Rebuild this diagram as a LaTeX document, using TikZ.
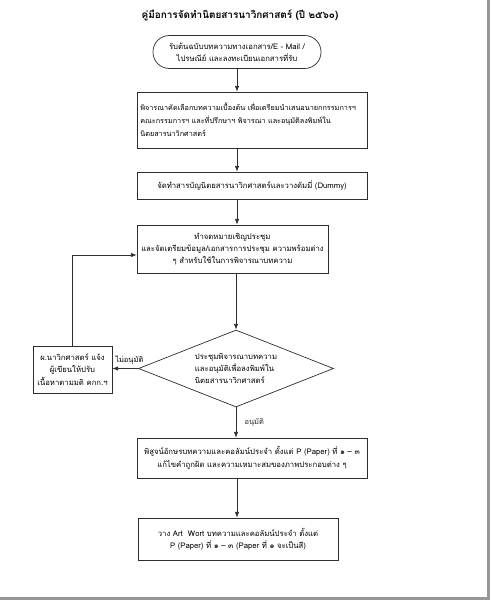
\documentclass[tikz,border=0pt]{standalone}
\usepackage{fontspec}
\newfontfamily\thaifont[Script=Thai]{Loma}
\usetikzlibrary{arrows.meta,positioning,shapes.geometric}
\definecolor{ink}{RGB}{45,45,45}
\definecolor{pageedge}{RGB}{150,150,150}

\begin{document}
\begin{tikzpicture}[x=0.03cm,y=-0.03cm,
      procbox/.style={draw=ink,line width=0.6pt,align=center,inner sep=2pt,font=\thaifont\fontsize{6.6}{10.5}\selectfont},
      endbox/.style={procbox,rounded corners=0.49cm},
      choice/.style={diamond,draw=ink,line width=0.6pt,aspect=2.53,minimum width=5.85cm,minimum height=2.31cm,inner sep=0pt,align=left,font=\thaifont\fontsize{6.6}{10.5}\selectfont},
      tag/.style={font=\thaifont\fontsize{6.4}{8}\selectfont,inner sep=1pt},
      arr/.style={-{Latex[length=1.7mm,width=1.3mm]},line width=0.6pt,ink}
    ]
      \useasboundingbox (0,0) rectangle (490,600);
      \fill[pageedge] (487,0) rectangle (490,600);
      \fill[pageedge] (0,597) rectangle (490,600);
      \node[font=\thaifont\bfseries\fontsize{8.5}{10}\selectfont] (title) at (240,15) {คู่มือการจัดทำนิตยสารนาวิกศาสตร์ (ปี ๒๕๖๐)};
      \node[endbox,minimum width=5.04cm,minimum height=0.99cm] (term) at (237,52) {รับต้นฉบับบทความทางเอกสาร/E - Mail /\\ไปรษณีย์ และลงทะเบียนเอกสารที่รับ};
      \node[procbox,minimum width=6.9cm,minimum height=1.68cm,text width=6.7cm,align=left,font=\thaifont\fontsize{6.2}{11}\selectfont] (sel) at (252,120) {\mbox{พิจารณาคัดเลือกบทความเบื้องต้น เพื่อเตรียมนำเสนอนายกกรรมการฯ}\\คณะกรรมการฯ และที่ปรึกษาฯ พิจารณา และอนุมัติลงพิมพ์ใน\\นิตยสารนาวิกศาสตร์};
      \node[procbox,minimum width=6.9cm,minimum height=0.81cm] (toc) at (252,185.5) {จัดทำสารบัญนิตยสารนาวิกศาสตร์และวางดัมมี่ (Dummy)};
      \node[procbox,minimum width=5.73cm,minimum height=1.44cm] (meet) at (232.5,249) {ทำจดหมายเชิญประชุม\\และจัดเตรียมข้อมูล/เอกสารการประชุม ความพร้อมต่าง\\ๆ สำหรับใช้ในการพิจารณาบทความ};
      \node[choice] (vote) at (236,368.5) {ประชุมพิจารณาบทความ\\และอนุมัติเพื่อลงพิมพ์ใน\\นิตยสารนาวิกศาสตร์};
      \node[procbox,minimum width=2.37cm,minimum height=1.41cm] (back) at (72.5,369.5) {ผ.นาวิกศาสตร์ แจ้ง\\ผู้เขียนให้ปรับ\\เนื้อหาตามมติ คกก.ฯ};
      \node[procbox,minimum width=6.9cm,minimum height=1.2cm] (proof) at (252,458) {พิสูจน์อักษรบทความและคอลัมน์ประจำ ตั้งแต่ P (Paper) ที่ ๑ – ๓\\แก้ไขคำถูกผิด และความเหมาะสมของภาพประกอบต่าง ๆ};
      \node[procbox,minimum width=6cm,minimum height=1.26cm] (art) at (238,539) {วาง Art~ Wort บทความและคอลัมน์ประจำ ตั้งแต่\\P (Paper) ที่ ๑ – ๓ (Paper ที่ ๑ จะเป็นสี)};
      \draw[arr] (term.south) -- (term.south |- sel.north);
      \draw[arr] (term |- sel.south) -- (term |- toc.north);
      \draw[arr] (term |- toc.south) -- (term |- meet.north);
      \draw[arr] (vote.north |- meet.south) -- (vote.north);
      \draw[arr] (vote.west) -- (vote.west -| back.east);
      \node[tag,anchor=south east] (no) at ([xshift=0.2cm,yshift=0.08cm]vote.west) {ไม่อนุมัติ};
      \draw[arr] (back.north) |- ([yshift=-0.18cm]meet.west);
      \draw[arr] (vote.south) -- node[tag,right=6pt] {อนุมัติ} (vote.south |- proof.north);
      \draw[arr] (term |- proof.south) -- (term |- art.north);
    \end{tikzpicture}
\end{document}
